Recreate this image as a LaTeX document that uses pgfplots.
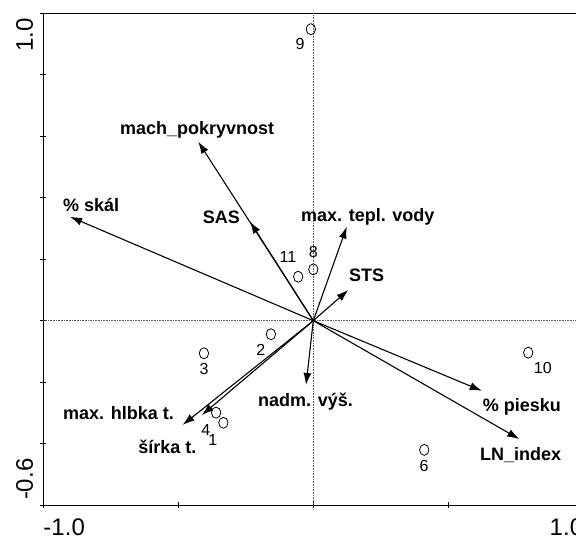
\documentclass[border=0pt]{standalone}
\usepackage{fontspec}
\setmainfont{Liberation Sans}
\usepackage{pgfplots}
\pgfplotsset{compat=1.18}
\usetikzlibrary{arrows.meta}

\newcommand{\labfont}{\bfseries\fontsize{18}{18}\selectfont}
\newcommand{\numfont}{\fontsize{16}{16}\selectfont}
\newcommand{\edgefont}{\fontsize{24}{24}\selectfont}

\begin{document}
\begin{tikzpicture}[x=1pt,y=1pt]
\begin{axis}[name=ax, at={(0,0)}, anchor=south west,
  scale only axis, width=540pt, height=492pt,
  xmin=-1, xmax=1, ymin=-0.6, ymax=1.0,
  axis line style={line width=1.2pt},
  xtick={-1,-0.5,0,0.5,1}, ytick={-0.6,-0.4,-0.2,0,0.2,0.4,0.6,0.8,1.0},
  xticklabels={}, yticklabels={},
  tick align=center, major tick length=6pt, tick style={line width=0.9pt, black},
  xtick pos=bottom, ytick pos=left,
  clip=false,
  arr/.style={line width=1.1pt, black, -{Latex[length=12pt,width=8pt]}},
]
% zero lines
\addplot[densely dotted, gray!70!black, line width=0.6pt] coordinates {(0,-0.6) (0,1.0)};
\addplot[densely dotted, gray!70!black, line width=0.6pt] coordinates {(-1,0) (1,0)};

% environmental arrows
\addplot[arr] coordinates {(0,0) (-0.426,0.582)}; % mach_pokryvnost
\addplot[arr] coordinates {(0,0) (-0.234,0.322)}; % SAS
\addplot[arr] coordinates {(0,0) (-0.901,0.338)}; % % skal
\addplot[arr] coordinates {(0,0) (0.124,0.306)};  % max. tepl. vody
\addplot[arr] coordinates {(0,0) (0.130,0.100)};  % STS
\addplot[arr] coordinates {(0,0) (-0.027,-0.209)}; % nadm. vys.
\addplot[arr] coordinates {(0,0) (0.624,-0.228)}; % % piesku
\addplot[arr] coordinates {(0,0) (0.763,-0.385)}; % LN_index
\addplot[arr] coordinates {(0,0) (-0.484,-0.339)}; % max. hlbka t.
\addplot[arr] coordinates {(0,0) (-0.413,-0.307)}; % sirka t.

% samples
\addplot[only marks, mark=o, mark size=5.5pt, mark options={xscale=0.85, line width=0.8pt, black}] coordinates {
  (-0.009,0.948) (0.0,0.167) (-0.056,0.143) (-0.157,-0.044) (-0.405,-0.106)
  (-0.36,-0.299) (-0.333,-0.332) (0.796,-0.104) (0.411,-0.42)
};

% sample labels
\node[font=\numfont, inner sep=0] at (axis cs:-0.049,0.900) {9};
\node[font=\numfont, inner sep=0] at (axis cs:0.0,0.223) {8};
\node[font=\numfont, inner sep=0] at (axis cs:-0.094,0.207) {11};
\node[font=\numfont, inner sep=0] at (axis cs:-0.194,-0.095) {2};
\node[font=\numfont, inner sep=0] at (axis cs:-0.405,-0.157) {3};
\node[font=\numfont, inner sep=0] at (axis cs:-0.398,-0.355) {4};
\node[font=\numfont, inner sep=0] at (axis cs:-0.372,-0.388) {1};
\node[font=\numfont, inner sep=0] at (axis cs:0.850,-0.154) {10};
\node[font=\numfont, inner sep=0] at (axis cs:0.41,-0.472) {6};

% variable labels
\node[font=\labfont, inner sep=0, anchor=base west] at (axis cs:-0.716,0.606) {mach\_pokryvnost};
\node[font=\labfont, inner sep=0, anchor=base east] at (axis cs:-0.271,0.317) {SAS};
\node[font=\labfont, inner sep=0, anchor=base west] at (axis cs:-0.927,0.354) {\% skál};
\node[font=\labfont, inner sep=0, anchor=base west] at (axis cs:-0.046,0.322) {max. tepl. vody};
\node[font=\labfont, inner sep=0, anchor=base west] at (axis cs:0.132,0.127) {STS};
\node[font=\labfont, inner sep=0, anchor=base west] at (axis cs:-0.205,-0.280) {nadm. výš.};
\node[font=\labfont, inner sep=0, anchor=base west] at (axis cs:0.627,-0.294) {\% piesku};
\node[font=\labfont, inner sep=0, anchor=base west] at (axis cs:0.617,-0.456) {LN\_index};
\node[font=\labfont, inner sep=0, anchor=base west] at (axis cs:-0.927,-0.321) {max. hlbka t.};
\node[font=\labfont, inner sep=0, anchor=base west] at (axis cs:-0.649,-0.431) {šírka t.};
\end{axis}

% axis end labels
\node[font=\edgefont, inner sep=0, anchor=north west] at ([yshift=-13.5pt]ax.south west) {-1.0};
\node[font=\edgefont, inner sep=0, anchor=north east] at ([yshift=-13.5pt]ax.south east) {1.0};
\node[font=\edgefont, inner sep=0, rotate=90, anchor=south east] at ([xshift=-10pt,yshift=-5pt]ax.north west) {1.0};
\node[font=\edgefont, inner sep=0, rotate=90, anchor=south west] at ([xshift=-10pt,yshift=5pt]ax.south west) {-0.6};

\pgfresetboundingbox
\useasboundingbox (-43.3pt,-32.8pt) rectangle ++(576pt,538pt);
\end{tikzpicture}
\end{document}
